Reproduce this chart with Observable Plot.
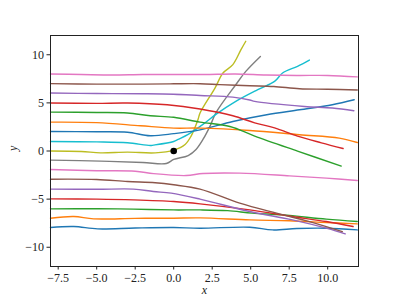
<!DOCTYPE html>
<html>
<head>
<meta charset="utf-8">
<script src="https://cdn.jsdelivr.net/npm/d3@7"></script>
<script src="https://cdn.jsdelivr.net/npm/@observablehq/plot@0.6"></script>
<style>
  html, body { margin: 0; padding: 0; background: #fff; }
  #chart svg { display: block; }
  #chart svg text { font-family: "Liberation Serif", "DejaVu Serif", serif; }
</style>
</head>
<body>
<div id="chart"></div>
<script>
// Streamlines: [x, y] points, starting at integer y offsets
const lineM8 = [[-8,-7.95],[-6.49,-7.85],[-4.94,-8.09],[-2.5,-8.0],[0,-7.95],[1.71,-8.02],[4.94,-7.92],[6.42,-8.2],[8,-8.05],[9.91,-8.02],[11.92,-8.2]];
const lineM7 = [[-8,-6.98],[-6.49,-6.81],[-5.2,-7.05],[-2.5,-7.0],[0,-6.98],[1.71,-6.95],[4.94,-7.16],[7.5,-7.25],[9.91,-7.43],[11.92,-7.57]];
const lineM6 = [[-8,-6.01],[-5,-6.0],[-2.61,-6.04],[0,-6.12],[1.71,-6.12],[3.5,-6.2],[5.1,-6.45],[7.07,-6.64],[9.91,-7.08],[11.92,-7.33]];
const lineM5 = [[-8,-4.97],[-5,-5.0],[-2.61,-5.08],[0,-5.25],[1.71,-5.49],[4.94,-6.12],[7.71,-6.81],[9.91,-7.33],[11.65,-7.85]];
const lineM4 = [[-8,-3.96],[-5,-3.98],[-2.61,-3.96],[-1.32,-4.21],[-0.16,-4.38],[1.71,-5.0],[4.94,-6.29],[7.71,-7.16],[9.91,-8.02],[11.14,-8.61]];
const lineM3 = [[-8,-2.93],[-5,-2.96],[-3,-3.17],[-1.2,-3.3],[0,-3.51],[1.71,-3.96],[4.29,-5.42],[6.68,-6.46],[8.81,-7.33],[10.95,-8.37]];
const lineM2 = [[-8,-1.92],[-5,-2.05],[-2.5,-2.1],[-1.3,-2.35],[0.81,-2.55],[1.9,-2.34],[4.29,-2.3],[7.52,-2.58],[9.91,-2.82],[11.92,-3.07]];
const lineM1 = [[-8,-0.95],[-4.75,-1.05],[-2,-1.2],[-0.48,-1.3],[0,-0.88],[0.94,-0.47],[1.45,0.16],[1.9,1.2],[2.36,2.59],[2.74,3.97],[4.03,6.88],[4.68,8.27],[5.63,9.83]];
const line0  = [[-8,0],[-6,-0.05],[-4.75,-0.19],[-3,-0.12],[-1.2,-0.19],[0,0.09],[0.74,0.68],[1.13,1.55],[1.58,3.28],[1.71,3.95],[2.68,6.54],[3.2,8.1],[3.84,8.97],[4.36,10.5],[4.68,11.4]];
const line1  = [[-8,0.99],[-5,0.95],[-3,0.85],[-1.52,0.57],[-1.32,0.61],[0,0.99],[0.29,1.2],[0.94,1.72],[1.9,2.76],[2.74,3.8],[4.03,5.15],[5.46,6.37],[6.55,7.23],[7.07,8.1],[8.04,8.8],[8.81,9.45]];
const line2  = [[-8,2.03],[-5,2.0],[-3,1.95],[-1.52,1.58],[0,1.8],[1.71,2.2],[3.84,3.07],[6.04,3.77],[8.17,4.28],[10.3,4.8],[11.72,5.32]];
const line3  = [[-8,3.0],[-5,2.95],[-2.16,2.62],[0,2.38],[1.71,2.38],[4.94,2.13],[8.17,1.69],[10.75,1.34],[11.92,0.88]];
const line4  = [[-8,4.04],[-5,4.0],[-3,3.95],[-1.52,3.66],[0,3.5],[1.71,3.0],[3.65,2.55],[5.26,1.55],[8.04,-0.01],[10.88,-1.57]];
const line5  = [[-8,4.98],[-5,4.95],[-3,4.98],[-0.42,4.8],[1.71,4.36],[3.84,3.66],[5.26,2.93],[6.55,2.41],[8.04,1.55],[9.59,0.85],[11.0,0.26]];
const line6  = [[-8,6.02],[-5,5.97],[-2,5.95],[0,5.9],[1.71,5.77],[3.84,5.6],[4.94,5.3],[5.26,5.15],[8.49,4.63],[10.3,4.46],[11.7,4.18]];
const line7  = [[-8,7.0],[-5,6.95],[-2,6.95],[0,6.98],[1.71,6.99],[3,6.9],[4.94,6.78],[6.5,6.7],[8.17,6.47],[10,6.42],[11.92,6.33]];
const line8  = [[-8,8.0],[-6,7.95],[-4,7.9],[-2,7.95],[0,7.95],[2,7.95],[4,8.0],[6,7.9],[8,7.85],[10,7.85],[11.92,7.7]];

const series = [lineM8, lineM7, lineM6, lineM5, lineM4, lineM3, lineM2, lineM1, line0, line1, line2, line3, line4, line5, line6, line7, line8];
const palette = ["#1f77b4","#ff7f0e","#2ca02c","#d62728","#9467bd","#8c564b","#e377c2","#7f7f7f","#bcbd22","#17becf"];
const startPoint = [[0, 0]];

const xTicks = [-7.5, -5, -2.5, 0, 2.5, 5, 7.5, 10];
const yTicks = [-10, -5, 0, 5, 10];

const minus = s => s.replace("-", "\u2212");

const marks = [];
series.forEach((pts, i) => {
  marks.push(Plot.line(pts, {x: d => d[0], y: d => d[1], stroke: palette[i % 10], strokeWidth: 1.4, curve: "catmull-rom"}));
});
marks.push(Plot.dot(startPoint, {x: d => d[0], y: d => d[1], r: 3.3, fill: "black", stroke: "none"}));
marks.push(Plot.frame({stroke: "#222", strokeWidth: 1}));
marks.push(Plot.axisX({ticks: xTicks, tickSize: 3.5, tickPadding: 3, tickFormat: d => minus(d.toFixed(1)), label: null}));
marks.push(Plot.axisY({ticks: yTicks, tickSize: 3.5, tickPadding: 3, tickFormat: d => minus(String(d)), label: null}));
marks.push(Plot.text(["x"], {frameAnchor: "bottom", dy: 27, fontStyle: "italic", fontSize: 12}));
marks.push(Plot.text(["y"], {frameAnchor: "left", dx: -37, rotate: -90, fontStyle: "italic", fontSize: 12}));

const chart = Plot.plot({
  width: 399,
  height: 299,
  marginLeft: 50,
  marginRight: 41,
  marginTop: 35,
  marginBottom: 33,
  x: {domain: [-8, 12]},
  y: {domain: [-12, 12]},
  style: {fontFamily: "'Liberation Serif', serif", fontSize: "12px", color: "#222", background: "white", overflow: "visible"},
  marks
});
document.getElementById("chart").appendChild(chart);
</script>
</body>
</html>
